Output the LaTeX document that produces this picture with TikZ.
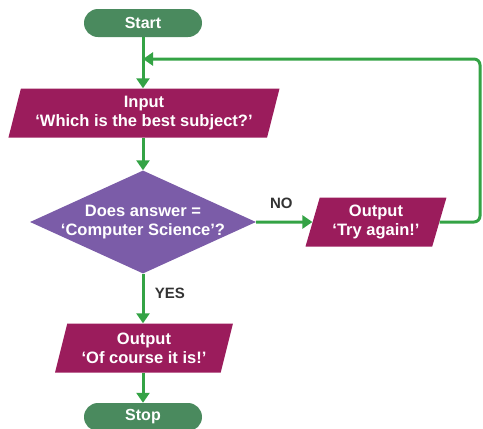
\documentclass[tikz,border=0pt]{standalone}
\usepackage{fontspec}
\setmainfont{Liberation Sans}
\usepackage{tikz}
\usetikzlibrary{arrows.meta,positioning,shapes.geometric,calc}
\definecolor{fcterm}{RGB}{74,138,94}
\definecolor{fcio}{RGB}{155,28,92}
\definecolor{fcdecide}{RGB}{123,92,168}
\definecolor{fcline}{RGB}{52,163,69}
\definecolor{fclabel}{RGB}{51,51,51}

\begin{document}
\begin{tikzpicture}[x=1pt, y=1pt,
    terminal/.style={rectangle, rounded corners=14pt, minimum width=118pt, minimum height=28pt,
      fill=fcterm, text=white, inner sep=0pt, font=\fontsize{16}{18}\selectfont\bfseries},
    inout/.style={trapezium, trapezium left angle=72, trapezium right angle=108, trapezium stretches=true,
      minimum height=49pt, fill=fcio, text=white, align=center, inner sep=0pt,
      font=\fontsize{16.5}{19}\selectfont\bfseries},
    decision/.style={diamond, aspect=2.2, minimum width=226pt, minimum height=103pt, inner sep=-4pt,
      fill=fcdecide, text=white, align=center, font=\fontsize{16.5}{19}\selectfont\bfseries},
    flow/.style={-{Triangle[length=10pt, width=13pt]}, line width=3pt, fcline},
    lbl/.style={text=fclabel, font=\fontsize{15}{17}\selectfont\bfseries}
  ]
    \useasboundingbox (0,0) rectangle (483,-429);
    % Start and input
    \node[terminal] (start) at (143,-23) {Start};
    \node[inout, minimum width=272pt] (ask) at (144,-113) {Input\\‘Which is the best subject?’};
    % Decision
    \node[decision] (check) at (143,-222) {Does answer =\\‘Computer Science’?};
    \node[inout, minimum width=141pt] (retry) at (376,-222) {Output\\‘Try again!’};
    % Yes branch
    \node[inout, minimum width=178pt] (yes) at (144,-348) {Output\\‘Of course it is!’};
    \node[terminal] (stop) at (143,-417) {Stop};
    % Connectors
    \coordinate (loopin) at (143,-59);
    \draw[flow] (start.south) -- (start.south |- ask.north);
    \draw[flow] (start.south |- ask.south) -- (check.north);
    \draw[flow] (check.east) -- node[lbl, above=9pt, xshift=-3pt]{NO} (retry.west);
    \draw[flow] (check.south) -- node[lbl, right=7pt, pos=0.4]{YES} (check.south |- yes.north);
    \draw[flow] (check.south |- yes.south) -- (stop.north);
    \draw[flow, rounded corners=6pt] (retry.east) -- (480,-222) -- (480,-59) -- (loopin);
  \end{tikzpicture}
\end{document}
